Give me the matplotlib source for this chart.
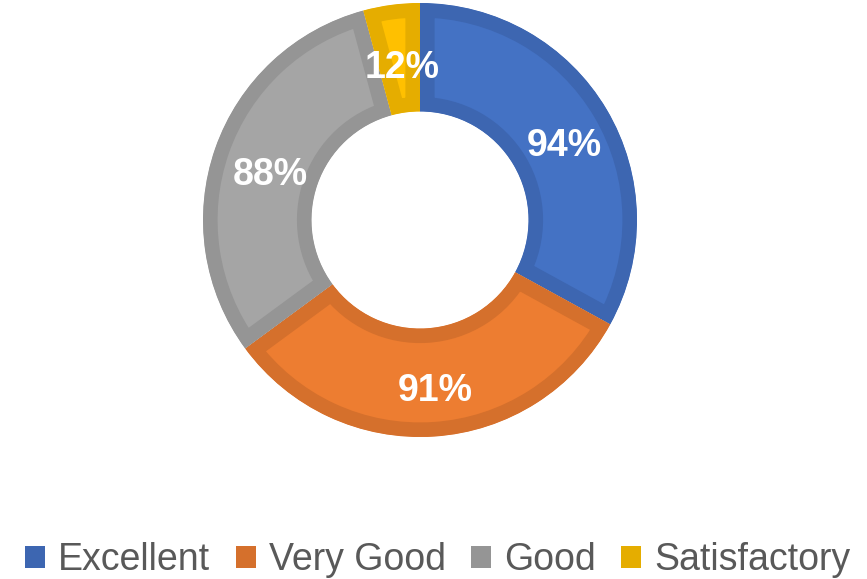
import matplotlib
matplotlib.use("Agg")
import matplotlib.pyplot as plt
from matplotlib.patches import Patch
from matplotlib.transforms import ScaledTranslation

plt.rcParams["font.family"] = ["Liberation Sans", "DejaVu Sans"]

categories = ["Excellent", "Very Good", "Good", "Satisfactory"]
values = [94, 91, 88, 12]
fill_colors = ["#4472C4", "#ED7D31", "#A5A5A5", "#FFC000"]
edge_colors = ["#3D66B1", "#D5702C", "#959595", "#E5AD00"]

total = sum(values)

fig = plt.figure(figsize=(8.67, 5.79), dpi=100)
# pie centre at (420, 220) px, outer radius 217 px
ax = fig.add_axes([203 / 867, (579 - 220 - 217) / 579, 434 / 867, 434 / 579])

wedges, texts, autotexts = ax.pie(
    values,
    colors=fill_colors,
    startangle=90,
    counterclock=False,
    radius=1.0,
    autopct=lambda p: f"{round(p * total / 100)}%",
    pctdistance=0.75,
    wedgeprops=dict(width=0.5),
    textprops=dict(color="white", fontsize=27, fontweight="bold"),
)

# darker inset border: stroke clipped to the wedge itself
for w, ec in zip(wedges, edge_colors):
    w.set_edgecolor(ec)
    w.set_linewidth(21)
    w.set_clip_path(w)
    w.set_clip_on(True)

# nudge data labels a little (right/down) like the original
shift = ScaledTranslation(0.04, -0.09, fig.dpi_scale_trans)
for t in autotexts:
    t.set_transform(t.get_transform() + shift)

ax.set_xlim(-1.0, 1.0)
ax.set_ylim(-1.0, 1.0)

handles = [Patch(facecolor=c, edgecolor="none") for c in edge_colors]
fig.legend(handles, categories, loc="center", bbox_to_anchor=(0.505, 1 - 560 / 579),
           ncol=4, frameon=False, fontsize=27, labelcolor="#595959",
           handlelength=0.53, handleheight=0.53, handletextpad=0.35, columnspacing=0.68)

fig.savefig("out.png", dpi=100)
